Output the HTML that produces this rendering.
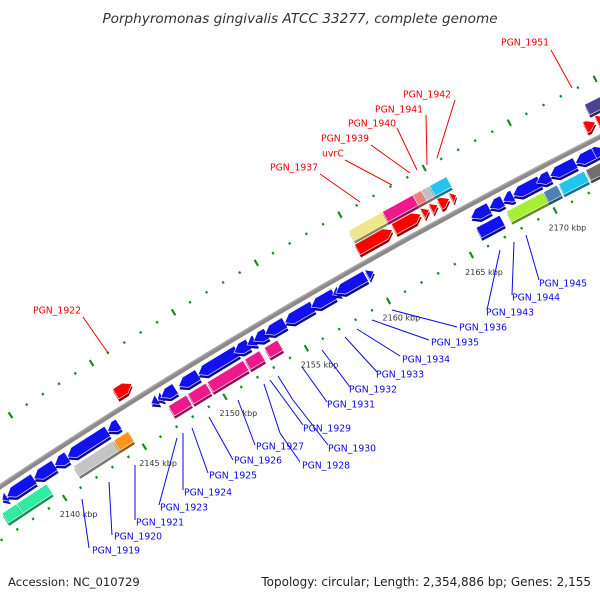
<!DOCTYPE html>
<html><head><meta charset="utf-8"><style>
html,body{margin:0;padding:0;background:#fff;}
svg{display:block;font-family:"DejaVu Sans","Liberation Sans",sans-serif;}
</style></head><body>
<svg id="map" width="600" height="600" viewBox="0 0 600 600">
<text x="300" y="23" text-anchor="middle" font-style="italic" font-size="13.6" fill="#333">Porphyromonas gingivalis ATCC 33277, complete genome</text>
<g id="ticks"></g>
<g id="backbone"></g>
<g id="genes"></g>
<g id="labels"></g>
<text x="8" y="586" font-size="11.6" fill="#222">Accession: NC_010729</text>
<text x="591" y="586" text-anchor="end" font-size="12" fill="#222">Topology: circular; Length: 2,354,886 bp; Genes: 2,155</text>
</svg>
<script>
// ---- data ----
const geneStart = [2137.2,2137.5,2139.2,2140.5,2141.3,2143.8,2146.5,2146.9,2147.1,2148.2,2149.4,2151.6,2152.4,2152.8,2153.5,2154.7,2156.3,2157.6,2157.8,2159.7,2165.9,2167.0,2167.8,2168.4,2169.8,2170.6,2172.1,2173.2,
 2136.8,2137.7,2141.3,2143.8,2147.2,2148.4,2149.6,2151.9,2153.1,2165.9,2167.7,2169.9,2170.8,2172.4,
 2145.2,2159.9,2162.1,2163.8,2164.3,2164.8,2165.5,2173.4,2174.1,
 2160.0,2162.0,2163.8,2164.3,2164.8,2173.9];
const geneEnd = [2137.5,2139.2,2140.5,2141.3,2143.8,2144.5,2146.9,2147.2,2148.0,2149.4,2151.8,2152.5,2152.9,2153.6,2154.7,2156.4,2157.7,2158.0,2159.6,2160.1,2167.0,2167.8,2168.4,2170.0,2170.6,2172.1,2173.2,2173.8,
 2137.7,2139.6,2143.8,2144.7,2148.3,2149.5,2151.8,2152.8,2153.9,2167.3,2169.9,2170.7,2172.3,2173.6,
 2146.2,2162.0,2163.7,2164.2,2164.7,2165.4,2165.8,2174.0,2174.6,
 2162.0,2163.8,2164.3,2164.8,2165.8,2176.0];
const geneTrack = [-1,-1,-1,-1,-1,-1,-1,-1,-1,-1,-1,-1,-1,-1,-1,-1,-1,-1,-1,-1,-1,-1,-1,-1,-1,-1,-1,-1,
 -2,-2,-2,-2,-2,-2,-2,-2,-2,-2,-2,-2,-2,-2,
 1,1,1,1,1,1,1,1,1,
 2,2,2,2,2,2];
const geneStrand = [-1,-1,-1,-1,-1,-1,-1,-1,-1,-1,-1,-1,-1,-1,-1,-1,-1,-1,-1,1,-1,-1,-1,-1,-1,-1,-1,1,
 0,0,0,0,0,0,0,0,0,0,0,0,0,0,
 1,1,1,1,1,1,1,1,1,
 0,0,0,0,0,0];
const geneColor = ['#1010f0','#1010f0','#1010f0','#1010f0','#1010f0','#1010f0','#1010f0','#1010f0','#1010f0','#1010f0','#1010f0','#1010f0','#1010f0','#1010f0','#1010f0','#1010f0','#1010f0','#1010f0','#1010f0','#1010f0','#1010f0','#1010f0','#1010f0','#1010f0','#1010f0','#1010f0','#1010f0','#1010f0',
 '#30eca0','#30eca0','#c4c4c4','#ff961a','#f0198c','#f0198c','#f0198c','#f0198c','#f0198c','#1010f0','#a4f032','#4a82b4','#22c4f0','#707070',
 '#ff0000','#ff0000','#ff0000','#ff0000','#ff0000','#ff0000','#ff0000','#ff0000','#ff0000',
 '#f0e68c','#f0198c','#f08080','#c0c0c0','#22c4f0','#4b4590'];
const tickMajor = [2135,2140,2145,2150,2155,2160,2165,2170,2175];
const tickLabels = ['2135 kbp','2140 kbp','2145 kbp','2150 kbp','2155 kbp','2160 kbp','2165 kbp','2170 kbp','2175 kbp'];
const tickMinorFrom = 2130, tickMinorTo = 2180;
// gene labels (layout)
const labelText = ['PGN_1922','PGN_1951','PGN_1942','PGN_1941','PGN_1940','PGN_1939','uvrC','PGN_1937',
 'PGN_1919','PGN_1920','PGN_1921','PGN_1923','PGN_1924','PGN_1925','PGN_1926','PGN_1927','PGN_1928','PGN_1929','PGN_1930','PGN_1931','PGN_1932','PGN_1933','PGN_1934','PGN_1935','PGN_1936','PGN_1943','PGN_1944','PGN_1945'];
const labelColor = ['red','red','red','red','red','red','red','red','blue','blue','blue','blue','blue','blue','blue','blue','blue','blue','blue','blue','blue','blue','blue','blue','blue','blue','blue','blue'];
const labelPos = [[33,310],[501,42],[403,94],[375,109],[348,123],[321,138],[322,153],[270,167],
 [92,550],[114,536],[136,522],[160,507],[184,492],[209,475],[234,460],[256,446],[302,465],[303,428],[328,448],[327,404],[349,389],[376,374],[402,359],[431,342],[459,327],[486,312],[512,297],[539,283]];
const labelLine = [[[83,317],[108,353]],[[551,50],[572,88]],[[455,100],[437,158]],[[426,115],[427,165]],[[397,128],[417,170]],[[371,145],[410,173]],[[345,160],[392,185]],[[320,174],[360,202]],
 [[82,499],[89,548]],[[109,482],[112,535]],[[135,465],[135,520]],[[177,438],[159,505]],[[183,433],[183,490]],[[192,428],[208,473]],[[209,417],[233,460]],[[238,400],[255,445]],[[264,384],[280,433],[300,462]],[[270,380],[303,425]],[[278,376],[293,400],[328,445]],[[302,367],[327,402]],[[322,350],[350,387]],[[345,337],[377,372]],[[357,329],[400,356]],[[372,320],[429,340]],[[392,310],[457,327]],[[500,250],[487,310]],[[514,242],[512,295]],[[526,235],[539,280]]];

// ---- geometry ----
const SVGNS='http://www.w3.org/2000/svg';
const CX=3228, CY=5332, R=5822;
function th(k){return (-123.20+(k-2140)*0.188)*Math.PI/180;}
function pt(k,r){const t=th(k);return [CX+(R+r)*Math.cos(t), CY+(R+r)*Math.sin(t)];}
const trackR = {'-1':-12,'-2':-29,'1':15,'2':30};
const HH = 5.8;
function mk(tag,attrs,parent){const e=document.createElementNS(SVGNS,tag);for(const a in attrs)e.setAttribute(a,attrs[a]);parent.appendChild(e);return e;}
function ptsStr(a){return a.map(p=>p[0].toFixed(2)+','+p[1].toFixed(2)).join(' ');}
function shade(hex,f){const n=parseInt(hex.slice(1),16);let r=n>>16,g=(n>>8)&255,b=n&255;return 'rgb('+Math.round(r*f)+','+Math.round(g*f)+','+Math.round(b*f)+')';}

// backbone
const bb=document.getElementById('backbone');
let bpts=[];for(let k=2130;k<=2180;k+=0.5)bpts.push(pt(k,0));
const bl=mk('polyline',{points:ptsStr(bpts),fill:'none',stroke:'#8a8a8a','stroke-width':5},bb);


let bpts2=[];for(let k=2130;k<=2180;k+=0.5)bpts2.push(pt(k,1.6));
const bl2=mk('polyline',{points:ptsStr(bpts2),fill:'none',stroke:'#a8a8a8','stroke-width':1.2},bb);



// ticks
const tg=document.getElementById('ticks');
for(let k=tickMinorFrom;k<=tickMinorTo;k++){
  const major = tickMajor.indexOf(k)>=0;
  [54,-45].forEach((r)=>{
    let a,b;
    if(major){a=pt(k,r+3.5);b=pt(k,r-3.5);}else{a=pt(k,r+1.2);b=pt(k,r-1.2);}
    const l=mk('line',{x1:a[0],y1:a[1],x2:b[0],y2:b[1],stroke:'#1e8a1e','stroke-width':major?2.2:2.2},tg);
    
    
  });
}
tickMajor.forEach((k,i)=>{
  const p=pt(k,-64);
  const x=p[0]+3.5, y=p[1]+3;
  if(x<25||x>580||y<20||y>560) return;
  const t=mk('text',{x:x,y:y,'text-anchor':'middle','font-size':'8',fill:'#333'},tg);
  t.textContent=tickLabels[i];
  
  
});

// genes
const gg=document.getElementById('genes');
function genePts(k1,k2,rc,dir){
  const len=k2-k1, hl=Math.min(0.42,len);
  if(dir===1) return [pt(k1,rc+HH),pt(k2-hl,rc+HH),pt(k2,rc),pt(k2-hl,rc-HH),pt(k1,rc-HH)];
  if(dir===-1) return [pt(k1,rc),pt(k1+hl,rc+HH),pt(k2,rc+HH),pt(k2,rc-HH),pt(k1+hl,rc-HH)];
  return [pt(k1,rc+HH),pt(k2,rc+HH),pt(k2,rc-HH),pt(k1,rc-HH)];
}
for(let i=0;i<geneStart.length;i++){
  const rc=trackR[String(geneTrack[i])];
  const p=genePts(geneStart[i],geneEnd[i],rc,geneStrand[i]);
  const g=mk('g',{},gg);
  
  
  mk('polygon',{points:ptsStr(p),fill:shade(geneColor[i],0.6),transform:'translate(0.8,2.8)'},g);
  mk('polygon',{points:ptsStr(p),fill:geneColor[i],stroke:'#fff','stroke-width':0.6},g);
}

// labels
const lg=document.getElementById('labels');
for(let i=0;i<labelText.length;i++){
  const col=labelColor[i]==='red'?'#f00000':'#0a0ae6';
  const ln=mk('polyline',{points:ptsStr(labelLine[i]),fill:'none',stroke:col,'stroke-width':1},lg);
  
  
  const t=mk('text',{x:labelPos[i][0],y:labelPos[i][1]+3.4,'font-size':'9.3',fill:col},lg);
  t.textContent=labelText[i];
  
  
}
</script>
</body></html>
